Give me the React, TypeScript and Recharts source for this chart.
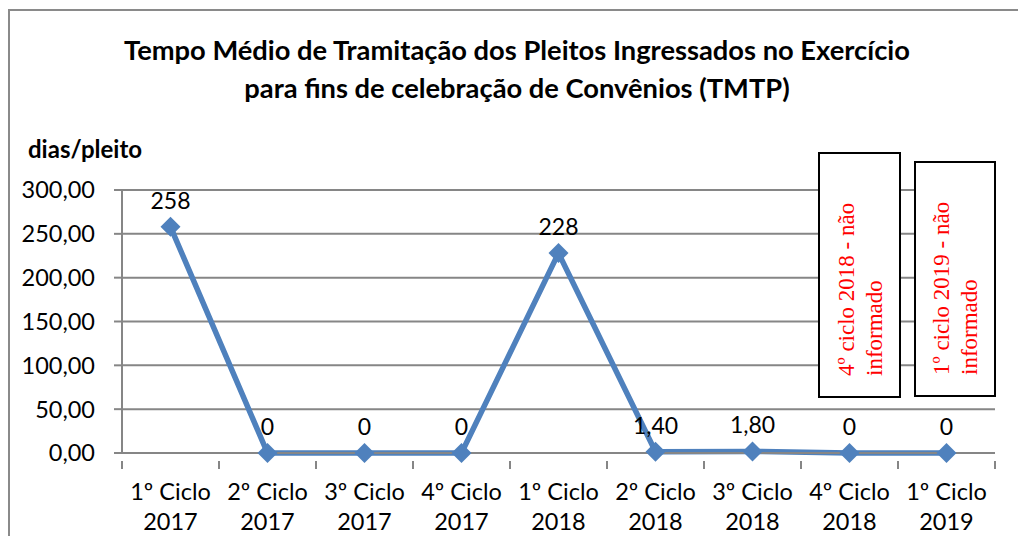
import { CartesianGrid, LabelList, Line, LineChart, XAxis, YAxis } from "recharts";

const ciclos = ["1º Ciclo", "2º Ciclo", "3º Ciclo", "4º Ciclo", "1º Ciclo", "2º Ciclo", "3º Ciclo", "4º Ciclo", "1º Ciclo"];
const anos = ["2017", "2017", "2017", "2017", "2018", "2018", "2018", "2018", "2019"];
const tmtp = [258, 0, 0, 0, 228, 1.4, 1.8, 0, 0];
const rotulos = ["258", "0", "0", "0", "228", "1,40", "1,80", "0", "0"];
const yTicks = [0, 50, 100, 150, 200, 250, 300];

const data = ciclos.map((c, i) => ({ cat: `${c} ${anos[i]}`, ciclo: c, ano: anos[i], tmtp: tmtp[i], rotulo: rotulos[i] }));

const FONT = "Lato, 'Open Sans', sans-serif";
const GRID = "#868686";
const BAND = (995 - 122) / ciclos.length;

const Diamond = (props: any) => {
  const { cx, cy } = props;
  if (cx == null || cy == null) return null;
  const r = 10;
  return <path d={`M${cx},${cy - r}L${cx + r},${cy}L${cx},${cy + r}L${cx - r},${cy}Z`} fill="#4F81BD" />;
};

const XTick = (props: any) => {
  const { x, y, payload, index } = props;
  const item = data[payload.index ?? index];
  return (
    <g>
      <line x1={x - BAND / 2} x2={x - BAND / 2} y1={y} y2={y + 8} stroke={GRID} strokeWidth={2} />
      {index === ciclos.length - 1 && (
        <line x1={x + BAND / 2} x2={x + BAND / 2} y1={y} y2={y + 8} stroke={GRID} strokeWidth={2} />
      )}
      <text x={x} y={y + 39} textAnchor="middle" fontSize={23.5} fontFamily={FONT} fill="#000">
        {item?.ciclo}
      </text>
      <text x={x} y={y + 69} textAnchor="middle" fontSize={23.5} fontFamily={FONT} fill="#000">
        {item?.ano}
      </text>
    </g>
  );
};

const boxStyle = (left: number, top: number, width: number, height: number): any => ({
  position: "absolute",
  left,
  top,
  width,
  height,
  border: "2px solid #000",
  boxSizing: "border-box",
  background: "#fff",
});

const NotaBox = ({ left, top, width, height, l1, l2 }: any) => (
  <div style={boxStyle(left, top, width, height)}>
    <svg width={width - 4} height={height - 4} style={{ display: "block" }}>
      <g fontFamily="'Liberation Serif', 'DejaVu Serif', serif" fontSize={23} fill="#FF0000">
        <text transform={`translate(${width / 2 - 8}, ${height - 24}) rotate(-90)`}>{l1}</text>
        <text transform={`translate(${width / 2 + 20}, ${height - 24}) rotate(-90)`}>{l2}</text>
      </g>
    </svg>
  </div>
);

export default function App() {
  return (
    <div style={{ position: "fixed", left: 0, top: 0, width: 1018, height: 536, background: "#fff", overflow: "hidden" }}>
      <div style={{ position: "absolute", left: 8, top: 9, width: 1100, height: 600, borderTop: "2px solid #8a8a8a", borderLeft: "2px solid #8a8a8a" }} />
      <div
        style={{
          position: "absolute",
          left: 0,
          top: 31,
          width: 1034,
          textAlign: "center",
          fontFamily: FONT,
          fontWeight: 700,
          fontSize: 27.3,
          lineHeight: "38px",
          color: "#000",
        }}
      >
        Tempo Médio de Tramitação dos Pleitos Ingressados no Exercício
        <br />
        para fins de celebração de Convênios (TMTP)
      </div>
      <div style={{ position: "absolute", left: 28, top: 134, fontFamily: FONT, fontWeight: 700, fontSize: 24, color: "#000" }}>
        dias/pleito
      </div>
      <div style={{ position: "absolute", left: 0, top: 0 }}>
        <LineChart width={1018} height={536} data={data} margin={{ top: 190, right: 23, bottom: 0, left: 0 }}>
          <CartesianGrid vertical={false} stroke={GRID} strokeWidth={2} />
          <XAxis
            dataKey="cat"
            scale="band"
            axisLine={{ stroke: GRID, strokeWidth: 2 }}
            tickLine={false}
            tick={<XTick />}
            interval={0}
            height={83}
          />
          <YAxis
            width={122}
            domain={[0, 300]}
            ticks={yTicks}
            interval={0}
            axisLine={{ stroke: GRID, strokeWidth: 2 }}
            tickLine={{ stroke: GRID, strokeWidth: 2 }}
            tickSize={8}
            tickMargin={19}
            tickFormatter={(v: number) => v.toFixed(2).replace(".", ",")}
            tick={{ fill: "#000", fontSize: 23.5, fontFamily: FONT }}
          />
          <Line
            dataKey="tmtp"
            stroke="#4F81BD"
            strokeWidth={5.5}
            dot={<Diamond />}
            activeDot={false}
            isAnimationActive={false}
          >
            <LabelList
              dataKey="rotulo"
              position="top"
              offset={18}
              fill="#000"
              fontSize={23}
              fontFamily={FONT}
            />
          </Line>
        </LineChart>
      </div>
      <NotaBox left={818} top={152} width={83} height={246} l1="4º ciclo 2018 - não" l2="informado" />
      <NotaBox left={914} top={161} width={82} height={236} l1="1º ciclo 2019 - não" l2="informado" />
    </div>
  );
}
